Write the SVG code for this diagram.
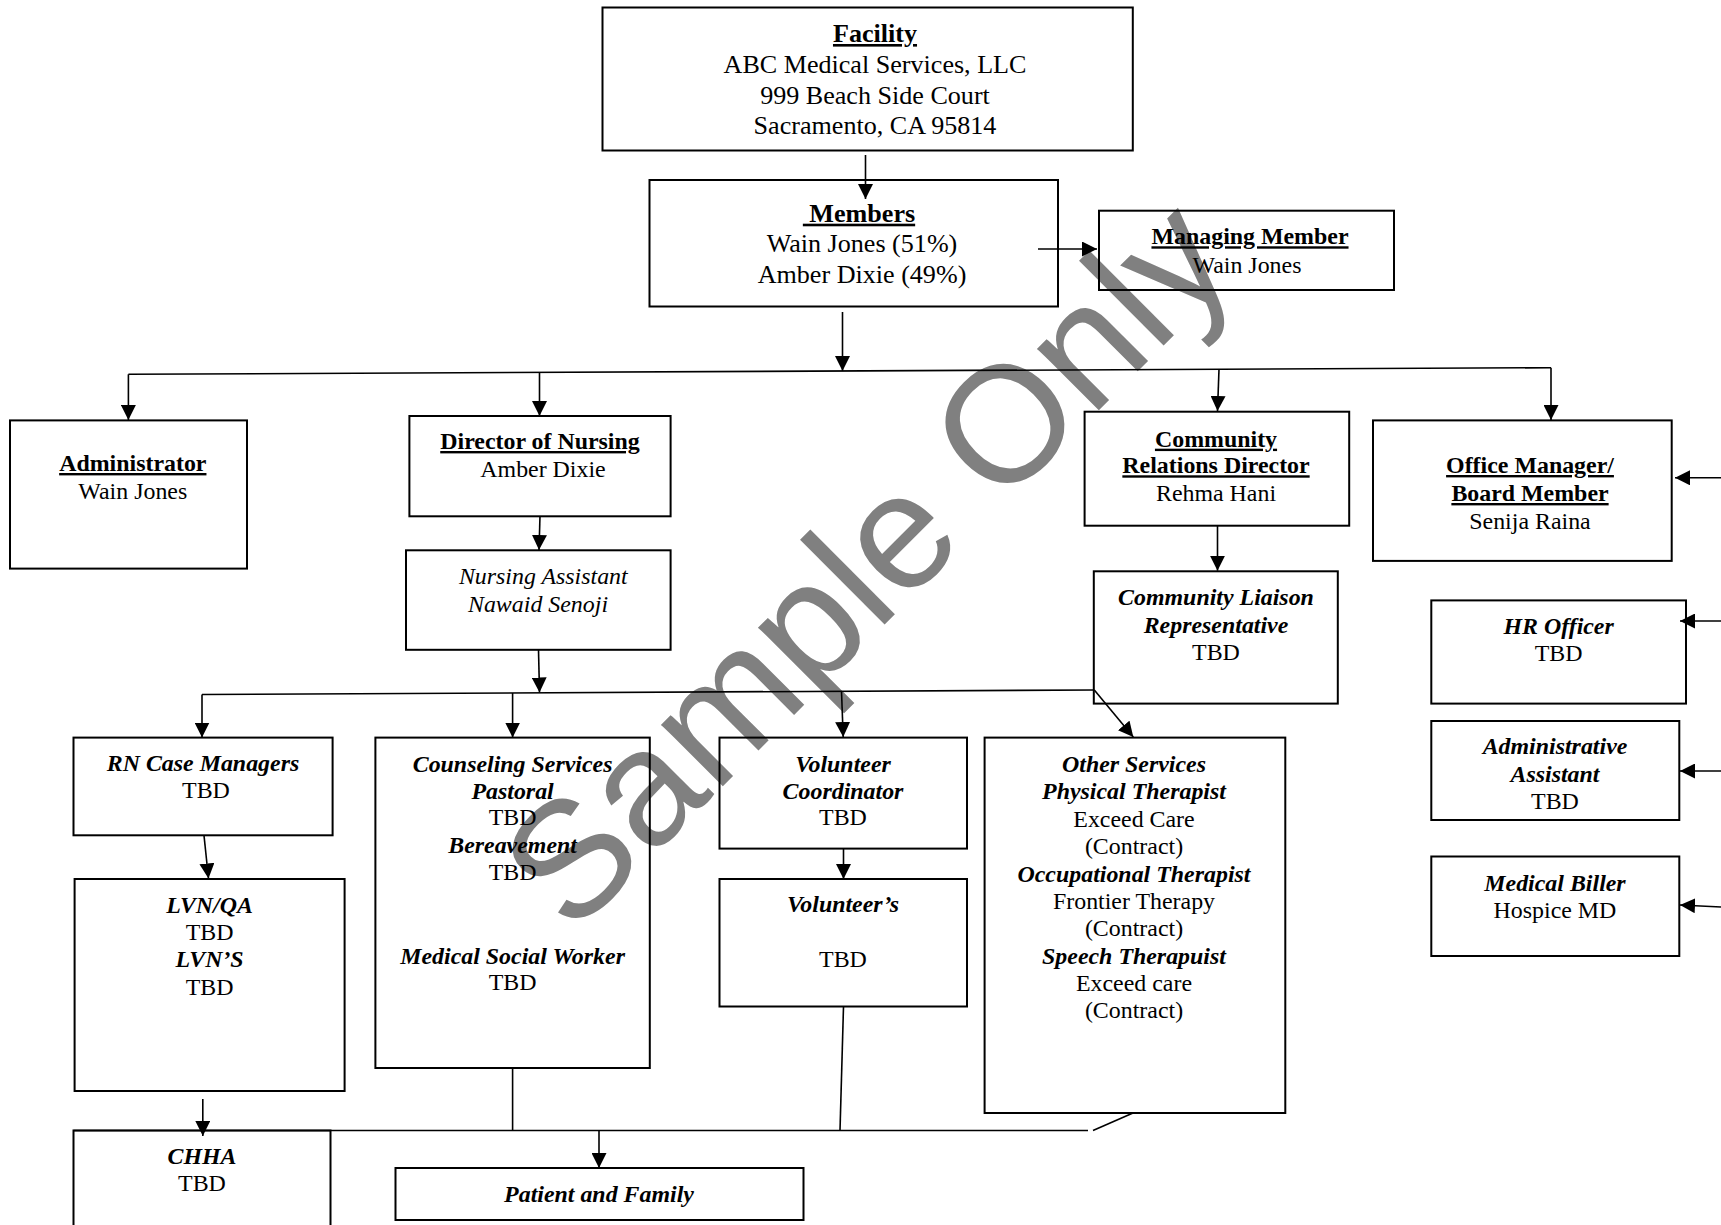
<svg xmlns="http://www.w3.org/2000/svg" width="1721" height="1225" viewBox="0 0 1721 1225">
<style>
.b{fill:none;stroke:#000;stroke-width:2}
.c{fill:none;stroke:#000;stroke-width:1.6}
.a{marker-end:url(#ah)}
text{font-family:"Liberation Serif","Times New Roman",serif;font-size:23.9px;text-anchor:middle;fill:#000}
.l{font-size:26.1px}
.h{font-weight:bold;text-decoration:underline}
.bi{font-weight:bold;font-style:italic}
.i{font-style:italic}
.wm{font-family:"Liberation Sans",Arial,sans-serif;font-size:165px;text-anchor:start;fill:#808080}
</style>
<defs>
<marker id="ah" markerUnits="userSpaceOnUse" markerWidth="15" markerHeight="15" refX="15" refY="7.5" orient="auto"><path d="M0,0 L15,7.5 L0,15 z" fill="#000"/></marker>
</defs>
<rect width="1721" height="1225" fill="#fff"/>
<g id="watermark"><text class="wm" x="572" y="937" transform="rotate(-45 572 937)">Sample Only</text></g>

<g id="connectors">
<line class="c a" x1="865.5" y1="155" x2="865.5" y2="199"/>
<line class="c a" x1="1038" y1="249" x2="1097" y2="249"/>
<line class="c a" x1="842.5" y1="312" x2="842.5" y2="371"/>
<line class="c" x1="128.4" y1="374.3" x2="1551" y2="367.7"/>
<line class="c a" x1="128.4" y1="374.3" x2="128.4" y2="420"/>
<line class="c a" x1="539.5" y1="372.4" x2="539.5" y2="416"/>
<line class="c a" x1="1219" y1="369.3" x2="1217.5" y2="411"/>
<line class="c a" x1="1551" y1="367.7" x2="1551" y2="420"/>
<line class="c a" x1="540" y1="516" x2="539" y2="550"/>
<line class="c a" x1="538.5" y1="650" x2="539.5" y2="692.5"/>
<line class="c" x1="202" y1="694.5" x2="1094.3" y2="690"/>
<line class="c a" x1="202" y1="694.5" x2="202" y2="737.5"/>
<line class="c a" x1="512.6" y1="693" x2="512.6" y2="737.5"/>
<line class="c a" x1="841.5" y1="691.3" x2="843.2" y2="737"/>
<line class="c a" x1="1094.3" y1="690" x2="1133.3" y2="737"/>
<line class="c a" x1="1217.5" y1="526" x2="1217.5" y2="570.7"/>
<line class="c a" x1="204" y1="835.5" x2="208.5" y2="878.5"/>
<line class="c a" x1="843.5" y1="849" x2="843.5" y2="879"/>
<line class="c a" x1="1721" y1="477.8" x2="1675" y2="477.8"/>
<line class="c a" x1="1721" y1="621" x2="1680" y2="621"/>
<line class="c a" x1="1721" y1="771" x2="1680" y2="771"/>
<line class="c a" x1="1721" y1="907" x2="1680" y2="905"/>
<line class="c" x1="512.6" y1="1068" x2="512.6" y2="1130.5"/>
<line class="c" x1="843.5" y1="1006.5" x2="840" y2="1130.5"/>
<line class="c" x1="73.5" y1="1130.5" x2="1088" y2="1130.5"/>
<line class="c" x1="1093" y1="1130.5" x2="1133" y2="1113"/>
<line class="c a" x1="202.8" y1="1099" x2="202.8" y2="1136"/>
<line class="c a" x1="599" y1="1130.5" x2="599" y2="1168"/>
</g>

<g id="facility">
<rect class="b" x="602.5" y="7.5" width="530.3" height="143"/>
<text class="l h" x="875" y="42">Facility</text>
<text class="l" x="875" y="72.7">ABC Medical Services, LLC</text>
<text class="l" x="875" y="103.5">999 Beach Side Court</text>
<text class="l" x="875" y="133.5">Sacramento, CA 95814</text>
</g>
<g id="members">
<rect class="b" x="649.5" y="180" width="408.5" height="126.5"/>
<text class="l h" x="859" y="221.7" xml:space="preserve"> Members</text>
<text class="l" x="862" y="251.7">Wain Jones (51%)</text>
<text class="l" x="862" y="282.5">Amber Dixie (49%)</text>
</g>
<g id="managing-member">
<rect class="b" x="1099" y="210.7" width="295" height="79.3"/>
<text class="h" x="1250" y="244.3">Managing Member</text>
<text x="1247" y="272.7">Wain Jones</text>
</g>
<g id="administrator">
<rect class="b" x="10" y="420.4" width="237" height="148.2"/>
<text class="h" x="132.8" y="471">Administrator</text>
<text x="132.8" y="498.5">Wain Jones</text>
</g>
<g id="director-of-nursing">
<rect class="b" x="409.4" y="416" width="261.2" height="100.3"/>
<text class="h" x="540" y="449">Director of Nursing</text>
<text x="543" y="476.5">Amber Dixie</text>
</g>
<g id="nursing-assistant">
<rect class="b" x="406" y="550.3" width="264.6" height="99.5"/>
<text class="i" x="543.3" y="584">Nursing Assistant</text>
<text class="i" x="538" y="611.5">Nawaid Senoji</text>
</g>
<g id="community-relations-director">
<rect class="b" x="1084.6" y="411.7" width="264.6" height="114"/>
<text class="h" x="1216" y="446.7">Community</text>
<text class="h" x="1216" y="473.3">Relations Director</text>
<text x="1216" y="500.7">Rehma Hani</text>
</g>
<g id="office-manager">
<rect class="b" x="1373" y="420.4" width="298.7" height="140.5"/>
<text class="h" x="1530" y="473">Office Manager/</text>
<text class="h" x="1530" y="501">Board Member</text>
<text x="1530" y="528.5">Senija Raina</text>
</g>
<g id="community-liaison">
<rect class="b" x="1093.8" y="571.3" width="244" height="132.3"/>
<text class="bi" x="1216" y="605">Community Liaison</text>
<text class="bi" x="1216" y="632.5">Representative</text>
<text x="1216" y="660">TBD</text>
</g>
<g id="hr-officer">
<rect class="b" x="1431.3" y="600.4" width="254.7" height="103.2"/>
<text class="bi" x="1558.6" y="634">HR Officer</text>
<text x="1558.6" y="661">TBD</text>
</g>
<g id="administrative-assistant">
<rect class="b" x="1431.3" y="721" width="248" height="99"/>
<text class="bi" x="1555" y="754">Administrative</text>
<text class="bi" x="1555" y="781.5">Assistant</text>
<text x="1555" y="809">TBD</text>
</g>
<g id="medical-biller">
<rect class="b" x="1431.3" y="856.5" width="248" height="99.5"/>
<text class="bi" x="1555" y="890.5">Medical Biller</text>
<text x="1555" y="918">Hospice MD</text>
</g>
<g id="rn-case-managers">
<rect class="b" x="73.5" y="737.6" width="259.1" height="97.7"/>
<text class="bi" x="203" y="771">RN Case Managers</text>
<text x="206" y="798">TBD</text>
</g>
<g id="lvn">
<rect class="b" x="74.6" y="879" width="270" height="212"/>
<text class="bi" x="209.6" y="912.5">LVN/QA</text>
<text x="209.6" y="940">TBD</text>
<text class="bi" x="209.6" y="966.5">LVN’S</text>
<text x="209.6" y="994.5">TBD</text>
</g>
<g id="counseling-services">
<rect class="b" x="375.4" y="737.6" width="274.4" height="330.4"/>
<text class="bi" x="512.6" y="771.7">Counseling Services</text>
<text class="bi" x="512.6" y="798.5">Pastoral</text>
<text x="512.6" y="825">TBD</text>
<text class="bi" x="512.6" y="853.3">Bereavement</text>
<text x="512.6" y="880">TBD</text>
<text class="bi" x="512.6" y="963.5">Medical Social Worker</text>
<text x="512.6" y="990">TBD</text>
</g>
<g id="volunteer-coordinator">
<rect class="b" x="719.5" y="737.6" width="247.5" height="111"/>
<text class="bi" x="843" y="771.7">Volunteer</text>
<text class="bi" x="843" y="798.5">Coordinator</text>
<text x="843" y="825">TBD</text>
</g>
<g id="volunteers">
<rect class="b" x="719.5" y="879" width="247.5" height="127.5"/>
<text class="bi" x="843" y="911.7">Volunteer’s</text>
<text x="843" y="966.7">TBD</text>
</g>
<g id="other-services">
<rect class="b" x="984.6" y="737.6" width="300.7" height="375.4"/>
<text class="bi" x="1134" y="772">Other Services</text>
<text class="bi" x="1134" y="799.4">Physical Therapist</text>
<text x="1134" y="826.7">Exceed Care</text>
<text x="1134" y="854">(Contract)</text>
<text class="bi" x="1134" y="881.5">Occupational Therapist</text>
<text x="1134" y="908.8">Frontier Therapy</text>
<text x="1134" y="936.2">(Contract)</text>
<text class="bi" x="1134" y="963.5">Speech Therapuist</text>
<text x="1134" y="990.9">Exceed care</text>
<text x="1134" y="1018.3">(Contract)</text>
</g>
<g id="chha">
<rect class="b" x="73.5" y="1130.5" width="257" height="130"/>
<text class="bi" x="202" y="1164">CHHA</text>
<text x="202" y="1191">TBD</text>
</g>
<g id="patient-and-family">
<rect class="b" x="395.5" y="1168" width="408" height="52"/>
<text class="bi" x="599" y="1202">Patient and Family</text>
</g>
</svg>
